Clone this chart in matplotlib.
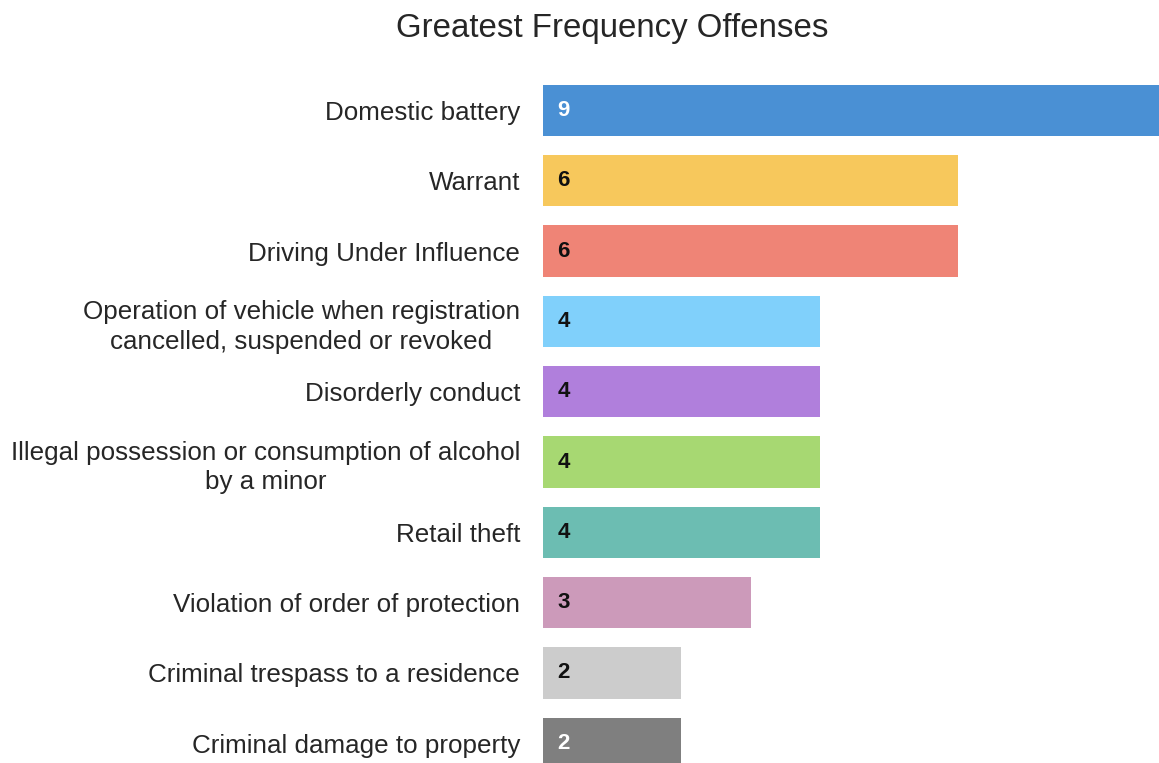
import matplotlib
matplotlib.use("Agg")
import matplotlib.pyplot as plt

# === DATA ===
offenses = [
    "Domestic battery",
    "Warrant",
    "Driving Under Influence",
    "Operation of vehicle when registration\ncancelled, suspended or revoked",
    "Disorderly conduct",
    "Illegal possession or consumption of alcohol\nby a minor",
    "Retail theft",
    "Violation of order of protection",
    "Criminal trespass to a residence",
    "Criminal damage to property",
]
counts = [9, 6, 6, 4, 4, 4, 4, 3, 2, 2]
colors = ["#4a90d4", "#f7c85c", "#ef8476", "#80d0fb", "#b07fdc",
          "#a7d872", "#6cbdb2", "#cc9aba", "#cccccc", "#7f7f7f"]
label_colors = ["white", "#111111", "#111111", "#111111", "#111111",
                "#111111", "#111111", "#111111", "#111111", "white"]

plt.rcParams["font.family"] = ["Liberation Sans", "DejaVu Sans"]

# === FIGURE ===
W, H = 1159, 763
fig = plt.figure(figsize=(W / 100, H / 100), dpi=100)
left_px, top_px = 543, 75.3
ax = fig.add_axes([left_px / W, 0, 1 - left_px / W, 1 - top_px / H])

ypos = list(range(len(counts)))
ax.barh(ypos, counts, height=0.73, color=colors)
ax.set_xlim(0, (W - left_px) / 69.2)
ax.set_ylim(9.28, -0.5)

ax.set_yticks(ypos)
ax.set_yticklabels(offenses, fontsize=18.7, color="#262626", linespacing=1.3)
ax.tick_params(axis="y", length=0, pad=16.5)
for lab in ax.get_yticklabels():
    lab.set_multialignment("center")
ax.set_xticks([])
for s in ax.spines.values():
    s.set_visible(False)

for y, v, c in zip(ypos, counts, label_colors):
    ax.text(0.296, y, str(v), ha="center", va="center", fontsize=16,
            fontweight="bold", color=c)

fig.text(0.528, 1 - 29 / H, "Greatest Frequency Offenses", ha="center",
         va="center", fontsize=23.8, color="#262626")

fig.savefig("out.png", dpi=100)
